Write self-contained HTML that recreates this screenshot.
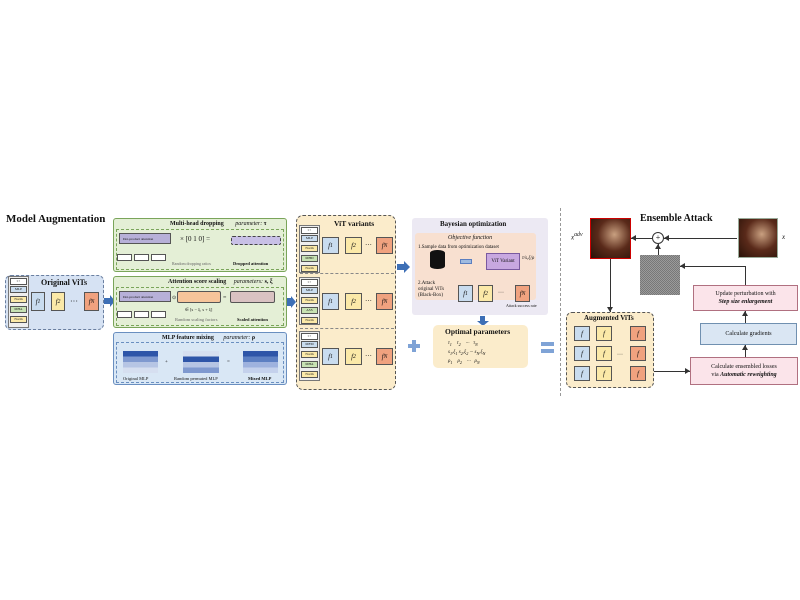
<!DOCTYPE html>
<html><head><meta charset="utf-8"><style>
body{margin:0;width:800px;height:600px;background:#fff;position:relative;overflow:hidden;font-family:"Liberation Serif",serif;color:#111}
div{position:absolute;box-sizing:border-box}
.t{white-space:nowrap;line-height:1}
.b{font-weight:bold}
.fb{border:1px solid #555;font-size:7px;font-style:italic;display:flex;align-items:center;justify-content:center}
.bl{background:#c9dcef}.ye{background:#fbe9a8}.or{background:#f0a27f}.gr{background:#c7e2b3}
.ms{border:1px solid #555;font-size:3.5px;text-align:center;line-height:5px;height:7px;width:17px;left:1px}
.stk{border:1px solid #777;background:#eee;width:21px}
.al{width:0;height:0;border-right:5px solid #333;border-top:3px solid transparent;border-bottom:3px solid transparent}
.au{width:0;height:0;border-bottom:5px solid #333;border-left:3px solid transparent;border-right:3px solid transparent}
.ad{width:0;height:0;border-top:5px solid #333;border-left:3px solid transparent;border-right:3px solid transparent}
.ar{width:0;height:0;border-left:5px solid #333;border-top:3px solid transparent;border-bottom:3px solid transparent}
</style></head><body>

<div class="t b" style="left:6px;top:214px;font-size:11px">Model Augmentation</div>

<!-- Original ViTs -->
<div style="left:5px;top:275px;width:99px;height:55px;background:#d6e2f3;border:1px dashed #6a7fa0;border-radius:6px"></div>
<div class="stk" style="left:8px;top:276px;height:52px">
<div class="ms" style="top:1px;background:#fff">l ×</div>
<div class="ms bl" style="top:9px">MLP</div>
<div class="ms ye" style="top:19px">Norm</div>
<div class="ms gr" style="top:29px">MHA</div>
<div class="ms ye" style="top:39px">Norm</div>
</div>
<div class="t b" style="left:41px;top:279px;font-size:8px">Original ViTs</div>
<div class="fb bl" style="left:31px;top:292px;width:14px;height:19px">f<sub>1</sub></div>
<div class="fb ye" style="left:51px;top:292px;width:14px;height:19px">f<sub>2</sub></div>
<div class="t" style="left:70px;top:298px;font-size:8px">···</div>
<div class="fb or" style="left:84px;top:292px;width:15px;height:19px">f<sub>N</sub></div>
<div style="left:104px;top:298px;width:6px;height:6px;background:#3d6fb6"></div>
<div style="left:110px;top:295px;border-left:5px solid #3d6fb6;border-top:6px solid transparent;border-bottom:6px solid transparent"></div>

<!-- Multi-head dropping -->
<div style="left:113px;top:218px;width:174px;height:54px;background:#e4efd6;border:1px solid #7aa55a;border-radius:3px"></div>
<div class="t b" style="left:170px;top:221px;font-size:6px">Multi-head dropping <i style="font-weight:normal;margin-left:10px">parameter: </i>τ</div>
<div style="left:116px;top:229px;width:168px;height:41px;border:1px dashed #7aa55a"></div>
<div style="left:119px;top:233px;width:52px;height:11px;background:#b7b0d8;border:1px solid #555;font-size:3.5px;line-height:10px;padding-left:3px">Dot-product attention</div>
<div style="left:117px;top:254px;width:15px;height:7px;border:1px solid #555;background:#fff"></div>
<div style="left:134px;top:254px;width:15px;height:7px;border:1px solid #555;background:#fff"></div>
<div style="left:151px;top:254px;width:15px;height:7px;border:1px solid #555;background:#fff"></div>
<div class="t" style="left:180px;top:236px;font-size:7px">× [0 1 0] =</div>
<div class="t" style="left:172px;top:262px;font-size:4px;color:#666">Random dropping ratios</div>
<div style="left:231px;top:236px;width:50px;height:9px;background:#c8c0e6;border:1px dashed #444;border-radius:2px"></div>
<div class="t b" style="left:233px;top:262px;font-size:4.5px">Dropped attention</div>

<!-- Attention score scaling -->
<div style="left:113px;top:276px;width:174px;height:52px;background:#e4efd6;border:1px solid #7aa55a;border-radius:3px"></div>
<div class="t b" style="left:168px;top:279px;font-size:6px">Attention score scaling <i style="font-weight:normal;margin-left:6px">parameters: </i>s, ξ</div>
<div style="left:116px;top:287px;width:168px;height:39px;border:1px dashed #7aa55a"></div>
<div style="left:119px;top:291px;width:52px;height:11px;background:#b7b0d8;border:1px solid #555;font-size:3.5px;line-height:10px;padding-left:3px">Dot-product attention</div>
<div style="left:117px;top:311px;width:15px;height:7px;border:1px solid #555;background:#fff"></div>
<div style="left:134px;top:311px;width:15px;height:7px;border:1px solid #555;background:#fff"></div>
<div style="left:151px;top:311px;width:15px;height:7px;border:1px solid #555;background:#fff"></div>
<div class="t" style="left:172px;top:296px;font-size:5px">⊙</div>
<div style="left:177px;top:291px;width:44px;height:12px;background:#f6c49a;border:1px solid #555;border-radius:2px"></div>
<div class="t" style="left:223px;top:295px;font-size:6px">=</div>
<div style="left:230px;top:291px;width:45px;height:12px;background:#d9c2c2;border:1px solid #555;border-radius:2px"></div>
<div class="t" style="left:185px;top:308px;font-size:4.5px">∈ [s − ξ, s + ξ]</div>
<div class="t" style="left:175px;top:318px;font-size:4.5px;color:#666">Random scaling factors</div>
<div class="t b" style="left:237px;top:318px;font-size:4.5px">Scaled attention</div>

<!-- MLP feature mixing -->
<div style="left:113px;top:332px;width:174px;height:53px;background:#d9e7f5;border:1px solid #6a8fc0;border-radius:3px"></div>
<div class="t b" style="left:162px;top:335px;font-size:6px">MLP feature mixing <i style="font-weight:normal;margin-left:8px">parameter: </i>ρ</div>
<div style="left:116px;top:342px;width:168px;height:41px;border:1px dashed #6a8fc0"></div>
<div style="left:123px;top:351px;width:35px;height:22px;background:linear-gradient(#2e55a8 0 25%,#7f99cf 25% 50%,#b6c5e4 50% 75%,#d6dff0 75%)"></div>
<div style="left:183px;top:351px;width:36px;height:22px;background:linear-gradient(#d6dff0 0 25%,#2e55a8 25% 50%,#b6c5e4 50% 75%,#7f99cf 75%)"></div>
<div style="left:243px;top:351px;width:35px;height:22px;background:linear-gradient(#2e55a8 0 25%,#5c7fc2 25% 50%,#9eb2de 50% 75%,#c4d1ec 75%)"></div>
<div class="t" style="left:165px;top:360px;font-size:5px">+</div>
<div class="t" style="left:227px;top:360px;font-size:5px">=</div>
<div class="t" style="left:123px;top:377px;font-size:4.5px">Original MLP</div>
<div class="t" style="left:174px;top:377px;font-size:4.5px">Random permuted MLP</div>
<div class="t b" style="left:248px;top:377px;font-size:4.5px">Mixed MLP</div>
<div style="left:287px;top:298px;width:4px;height:8px;background:#3d6fb6"></div>
<div style="left:291px;top:296px;border-left:5px solid #3d6fb6;border-top:6px solid transparent;border-bottom:6px solid transparent"></div>

<!-- ViT variants -->
<div style="left:296px;top:215px;width:100px;height:175px;background:#fbeccb;border:1px dashed #555;border-radius:7px"></div>
<div class="t b" style="left:334px;top:220px;font-size:7.5px">ViT variants</div>
<div style="left:300px;top:273px;width:94px;border-top:1px dashed #888"></div>
<div style="left:300px;top:328px;width:94px;border-top:1px dashed #888"></div>

<div class="stk" style="left:299px;top:225px;height:48px">
<div class="ms" style="top:1px;background:#fff">l ×</div><div class="ms bl" style="top:9px">MLP</div><div class="ms ye" style="top:19px">Norm</div><div class="ms gr" style="top:29px">MHD</div><div class="ms ye" style="top:39px">Norm</div></div>
<div class="stk" style="left:299px;top:277px;height:48px">
<div class="ms" style="top:1px;background:#fff">l ×</div><div class="ms bl" style="top:9px">MLP</div><div class="ms ye" style="top:19px">Norm</div><div class="ms gr" style="top:29px">ASS</div><div class="ms ye" style="top:39px">Norm</div></div>
<div class="stk" style="left:299px;top:331px;height:50px">
<div class="ms" style="top:1px;background:#fff">l ×</div><div class="ms bl" style="top:9px">MFM</div><div class="ms ye" style="top:19px">Norm</div><div class="ms gr" style="top:29px">MHA</div><div class="ms ye" style="top:39px">Norm</div></div>

<div class="fb bl" style="left:322px;top:237px;width:17px;height:17px">f<sub>1</sub></div>
<div class="fb ye" style="left:345px;top:237px;width:17px;height:17px">f<sub>2</sub></div>
<div class="t" style="left:365px;top:242px;font-size:7px">···</div>
<div class="fb or" style="left:376px;top:237px;width:17px;height:17px">f<sub>N</sub></div>
<div class="fb bl" style="left:322px;top:293px;width:17px;height:17px">f<sub>1</sub></div>
<div class="fb ye" style="left:345px;top:293px;width:17px;height:17px">f<sub>2</sub></div>
<div class="t" style="left:365px;top:298px;font-size:7px">···</div>
<div class="fb or" style="left:376px;top:293px;width:17px;height:17px">f<sub>N</sub></div>
<div class="fb bl" style="left:322px;top:348px;width:17px;height:17px">f<sub>1</sub></div>
<div class="fb ye" style="left:345px;top:348px;width:17px;height:17px">f<sub>2</sub></div>
<div class="t" style="left:365px;top:353px;font-size:7px">···</div>
<div class="fb or" style="left:376px;top:348px;width:17px;height:17px">f<sub>N</sub></div>

<div style="left:397px;top:264px;width:7px;height:6px;background:#3d6fb6"></div>
<div style="left:404px;top:261px;border-left:6px solid #3d6fb6;border-top:6px solid transparent;border-bottom:6px solid transparent"></div>

<!-- Bayesian -->
<div style="left:412px;top:218px;width:136px;height:97px;background:#ece9f3;border-radius:3px"></div>
<div class="t b" style="left:440px;top:221px;font-size:7px">Bayesian optimization</div>
<div style="left:415px;top:233px;width:121px;height:67px;background:#f8e0d0;border-radius:3px"></div>
<div class="t" style="left:448px;top:235px;font-size:6px;font-style:italic">Objective function</div>
<div class="t" style="left:418px;top:245px;font-size:5px">1.Sample data from optimization dataset</div>
<div style="left:430px;top:250px;width:15px;height:19px;background:#111;border-radius:7px/3px"></div>
<div style="left:460px;top:259px;width:12px;height:5px;background:#9fbbe0;border:1px solid #5b7fc0"></div>
<div style="left:486px;top:253px;width:34px;height:17px;background:#c8a8e0;border:1px solid #7a5aa0;font-size:5px;display:flex;align-items:center;justify-content:center">ViT Variant</div>
<div class="t" style="left:522px;top:256px;font-size:5px;font-style:italic">τ/s,ξ/ρ</div>
<div class="t" style="left:418px;top:281px;font-size:5px;line-height:6px">2.Attack<br>original ViTs<br>(Black-Box)</div>
<div class="fb bl" style="left:458px;top:285px;width:15px;height:17px">f<sub>1</sub></div>
<div class="fb ye" style="left:478px;top:285px;width:15px;height:17px">f<sub>2</sub></div>
<div class="t" style="left:498px;top:290px;font-size:6px">···</div>
<div class="fb or" style="left:515px;top:285px;width:15px;height:17px">f<sub>N</sub></div>
<div class="t" style="left:506px;top:304px;font-size:4px">Attack success rate</div>
<div style="left:480px;top:316px;width:5px;height:5px;background:#3d6fb6"></div>
<div style="left:477px;top:321px;border-top:5px solid #3d6fb6;border-left:6px solid transparent;border-right:6px solid transparent"></div>

<!-- Optimal params -->
<div style="left:433px;top:325px;width:95px;height:43px;background:#fbeccb;border-radius:5px"></div>
<div class="t b" style="left:445px;top:328px;font-size:7.5px">Optimal parameters</div>
<div class="t" style="left:448px;top:340px;font-size:5px;line-height:8px;font-style:italic">τ<sub>1</sub>&nbsp;&nbsp;&nbsp;&nbsp;τ<sub>2</sub>&nbsp;&nbsp;&nbsp;&nbsp;···&nbsp;&nbsp;&nbsp;τ<sub>N</sub><br>s<sub>1</sub>,ξ<sub>1</sub> s<sub>2</sub>,ξ<sub>2</sub> ··· s<sub>N</sub>,ξ<sub>N</sub><br>ρ<sub>1</sub>&nbsp;&nbsp;&nbsp;&nbsp;ρ<sub>2</sub>&nbsp;&nbsp;&nbsp;&nbsp;···&nbsp;&nbsp;&nbsp;ρ<sub>N</sub></div>
<div style="left:408px;top:344px;width:12px;height:4px;background:#7fa3d6"></div>
<div style="left:412px;top:340px;width:4px;height:12px;background:#7fa3d6"></div>
<div style="left:541px;top:342px;width:13px;height:4px;background:#7fa3d6"></div>
<div style="left:541px;top:349px;width:13px;height:4px;background:#7fa3d6"></div>

<!-- divider -->
<div style="left:560px;top:208px;height:188px;border-left:1px dashed #999"></div>

<!-- Ensemble -->
<div class="t b" style="left:640px;top:214px;font-size:10px">Ensemble Attack</div>
<div class="t" style="left:571px;top:233px;font-size:7px;font-style:italic">x<sup>adv</sup></div>
<div style="left:590px;top:218px;width:41px;height:41px;background:radial-gradient(circle at 60% 40%,#c9a080,#5a2a1a 50%,#2a1208);border:1px solid #c00"></div>
<div style="left:738px;top:218px;width:40px;height:40px;background:radial-gradient(circle at 60% 40%,#c9a080,#5a2a1a 50%,#2a1208);border:1px solid #9a9"></div>
<div class="t" style="left:782px;top:234px;font-size:7px;font-style:italic">x</div>
<div style="left:652px;top:232px;width:12px;height:12px;border:1px solid #333;border-radius:50%;background:#fff;font-size:8px;text-align:center;line-height:10px">+</div>
<div style="left:664px;top:238px;width:73px;border-top:1px solid #333"></div>
<div class="al" style="left:664px;top:235px"></div>
<div style="left:631px;top:238px;width:21px;border-top:1px solid #333"></div>
<div class="al" style="left:631px;top:235px"></div>
<div style="left:658px;top:244px;height:11px;border-left:1px solid #333"></div>
<div class="au" style="left:655px;top:244px"></div>
<div style="left:640px;top:255px;width:40px;height:40px;background:repeating-conic-gradient(#777 0 25%,#9a9a9a 0 50%) 0 0/2px 2px"></div>
<div style="left:680px;top:266px;width:65px;border-top:1px solid #333"></div>
<div class="al" style="left:680px;top:263px"></div>
<div style="left:745px;top:266px;height:19px;border-left:1px solid #333"></div>
<div style="left:610px;top:259px;height:53px;border-left:1px solid #333"></div>
<div class="ad" style="left:607px;top:307px"></div>

<div style="left:693px;top:285px;width:105px;height:26px;background:#fbe4ea;border:1px solid #b07080;font-size:6px;text-align:center;line-height:8px;padding-top:4px">Update perturbation with<br><b><i>Step size enlargement</i></b></div>
<div style="left:745px;top:311px;height:12px;border-left:1px solid #333"></div>
<div class="au" style="left:742px;top:311px"></div>
<div style="left:700px;top:323px;width:97px;height:22px;background:#dae6f3;border:1px solid #7090b0;font-size:6px;text-align:center;line-height:20px">Calculate gradients</div>
<div style="left:745px;top:345px;height:12px;border-left:1px solid #333"></div>
<div class="au" style="left:742px;top:345px"></div>
<div style="left:690px;top:357px;width:108px;height:28px;background:#fbe4ea;border:1px solid #b07080;font-size:6px;text-align:center;line-height:8px;padding-top:5px">Calculate ensembled losses<br>via <b><i>Automatic reweighting</i></b></div>
<div style="left:654px;top:371px;width:36px;border-top:1px solid #333"></div>
<div class="ar" style="left:685px;top:368px"></div>

<div style="left:566px;top:312px;width:88px;height:76px;background:#fbeccb;border:1px dashed #555;border-radius:6px"></div>
<div class="t b" style="left:584px;top:315px;font-size:7px">Augmented ViTs</div>
<div class="fb bl" style="left:574px;top:326px;width:16px;height:15px">f</div>
<div class="fb ye" style="left:596px;top:326px;width:16px;height:15px">f</div>
<div class="fb or" style="left:630px;top:326px;width:16px;height:15px">f</div>
<div class="fb bl" style="left:574px;top:346px;width:16px;height:15px">f</div>
<div class="fb ye" style="left:596px;top:346px;width:16px;height:15px">f</div>
<div class="t" style="left:617px;top:352px;font-size:6px">···</div>
<div class="fb or" style="left:630px;top:346px;width:16px;height:15px">f</div>
<div class="fb bl" style="left:574px;top:366px;width:16px;height:15px">f</div>
<div class="fb ye" style="left:596px;top:366px;width:16px;height:15px">f</div>
<div class="fb or" style="left:630px;top:366px;width:16px;height:15px">f</div>
</body></html>
